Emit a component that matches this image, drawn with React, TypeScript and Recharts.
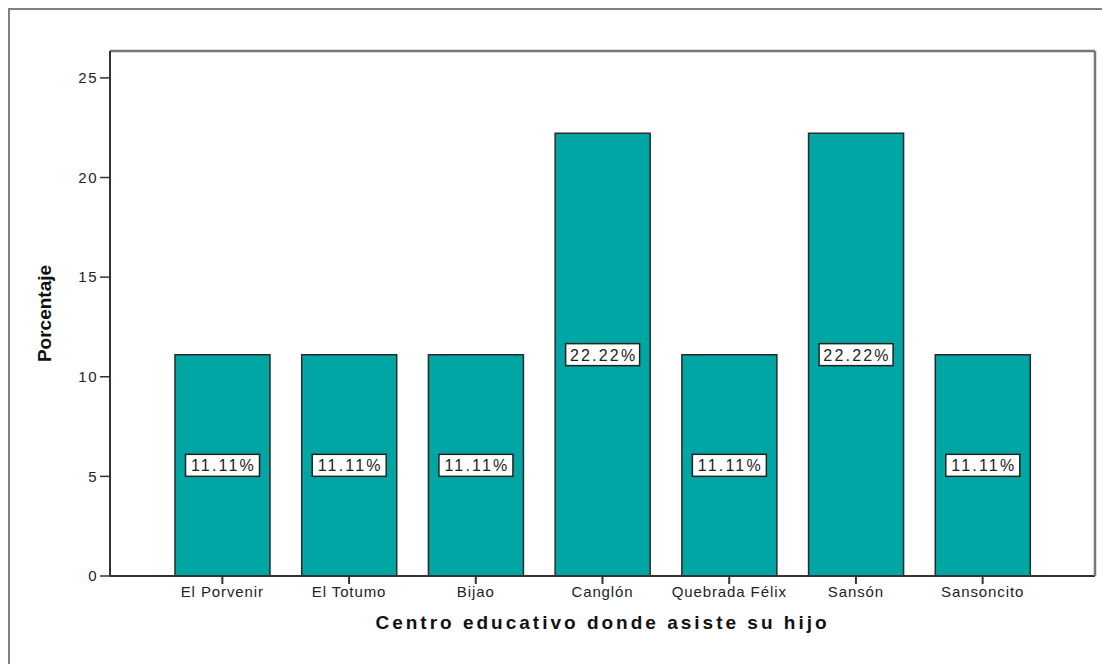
import { Bar, ComposedChart, LabelList, Line, XAxis, YAxis } from "recharts";

const categories = [
  "El Porvenir", "El Totumo", "Bijao", "Canglón", "Quebrada Félix", "Sansón", "Sansoncito",
];
const percentages = [11.11, 11.11, 11.11, 22.22, 11.11, 22.22, 11.11];
const yTicks = [0, 5, 10, 15, 20, 25];

const data = categories.map((name, i) => ({ name, value: percentages[i] }));

const FONT = "'Liberation Sans', Arial, sans-serif";
const TEXT = "#222";

function PercentBox(props: any) {
  const { x, y, width, height, value } = props;
  const cx = x + width / 2;
  const cy = y + height / 2;
  const label = `${Number(value).toFixed(2)}%`;
  return (
    <g>
      <rect x={cx - 37} y={cy - 11} width={74} height={22} fill="#fff" stroke="#222" strokeWidth={1.5} />
      <text x={cx + 1} y={cy + 6} textAnchor="middle" fontFamily={FONT} fontSize={16}
        letterSpacing={2.2} fill={TEXT}>{label}</text>
    </g>
  );
}

export default function App() {
  return (
    <div style={{ position: "fixed", left: 8, top: 8, borderTop: "2px solid #808080", borderLeft: "2px solid #808080",
      width: 1100, height: 660, background: "#fff" }}>
      <ComposedChart width={1088} height={650} data={data}
        margin={{ top: 40, right: 2, left: 0, bottom: 0 }} barSize={95}>
        <XAxis dataKey="name" xAxisId="bottom" height={84} padding={{ left: 49, right: 49 }}
          axisLine={{ stroke: "#333", strokeWidth: 2 }} tickLine={{ stroke: "#333", strokeWidth: 2 }} tickSize={8}
          tick={{ fontSize: 15, fill: TEXT, fontFamily: FONT, letterSpacing: 0.9 }} tickMargin={2}
          label={{ value: "Centro educativo donde asiste su hijo", position: "insideTop", offset: 40,
            style: { fontSize: 19, fontWeight: "bold", fill: "#111", fontFamily: FONT, letterSpacing: 3 } }} />
        <XAxis dataKey="name" xAxisId="top" orientation="top" height={1} tick={false} tickLine={false}
          axisLine={{ stroke: "#777", strokeWidth: 2.5 }} padding={{ left: 49, right: 49 }} />
        <YAxis yAxisId="left" width={100} domain={[0, 26.35]} ticks={yTicks} interval={0}
          axisLine={{ stroke: "#333", strokeWidth: 2 }} tickLine={{ stroke: "#333", strokeWidth: 1.5 }} tickSize={10}
          tick={{ fontSize: 15, fill: TEXT, fontFamily: FONT, letterSpacing: 1.5 }} tickMargin={2}
          label={{ value: "Porcentaje", angle: -90, position: "insideLeft", offset: 34,
            style: { fontSize: 19, fontWeight: "bold", fill: "#111", fontFamily: FONT, textAnchor: "middle" } }} />
        <YAxis yAxisId="right" orientation="right" width={1} domain={[0, 26.35]} tick={false} tickLine={false}
          axisLine={{ stroke: "#777", strokeWidth: 2.5 }} />
        <Bar dataKey="value" xAxisId="bottom" yAxisId="left" fill="#00A6A3" stroke="#2a2a2a" strokeWidth={1.5}
          isAnimationActive={false}>
          <LabelList dataKey="value" content={PercentBox} />
        </Bar>
        <Line dataKey="value" xAxisId="top" yAxisId="right" stroke="none" dot={false} activeDot={false}
          legendType="none" isAnimationActive={false} />
      </ComposedChart>
    </div>
  );
}
